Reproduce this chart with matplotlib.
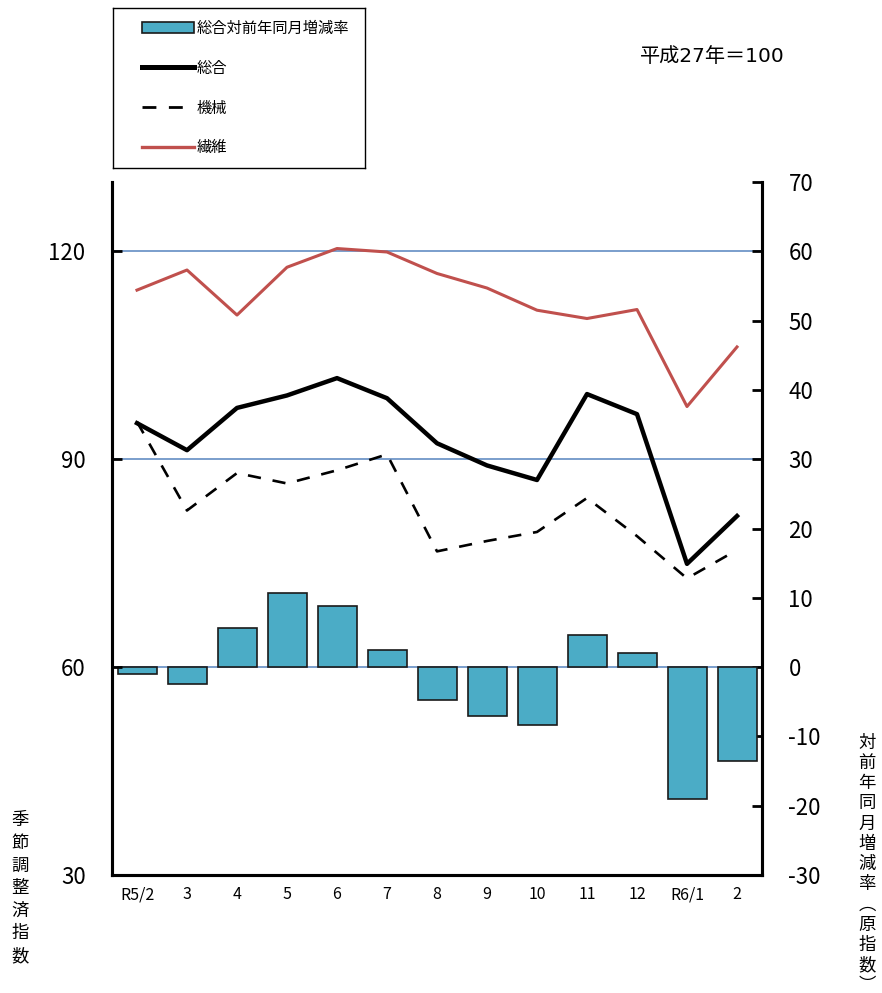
import matplotlib
matplotlib.use("Agg")
import matplotlib.pyplot as plt
from matplotlib.patches import Patch
from matplotlib.lines import Line2D

plt.rcParams['font.family'] = ['Noto Sans CJK JP', 'DejaVu Sans']

# data
months = ['R5/2', '3', '4', '5', '6', '7', '8', '9', '10', '11', '12', 'R6/1', '2']
total_yoy = [-1.0, -2.4, 5.6, 10.7, 8.8, 2.5, -4.8, -7.0, -8.3, 4.6, 2.0, -19.0, -13.5]
total_idx = [95.2, 91.3, 97.4, 99.2, 101.7, 98.8, 92.3, 89.1, 87.0, 99.4, 96.5, 74.9, 81.8]
machine_idx = [95.4, 82.6, 88.0, 86.5, 88.4, 90.7, 76.7, 78.2, 79.5, 84.4, 78.9, 72.8, 76.9]
textile_idx = [114.4, 117.3, 110.8, 117.7, 120.4, 119.9, 116.8, 114.7, 111.5, 110.3, 111.6, 97.6, 106.2]

left_ticks = [30, 60, 90, 120]
right_ticks = list(range(-30, 71, 10))

bar_color = '#4BACC6'
red = '#C0504D'
grid_blue = '#6F96C8'

W, H = 882, 993
fig = plt.figure(figsize=(W / 100, H / 100), dpi=100)

# bars on the base axes (right scale), lines on the twin (left scale)
ax = fig.add_axes([112 / W, (H - 875) / H, 650 / W, 693 / H])
ax2 = ax.twinx()

x = list(range(len(months)))
ax.set_ylim(-30, 70)
ax2.set_ylim(30, 130)
ax.set_xlim(-0.5, len(months) - 0.5)

offset = 60  # left value - right value
for lv in left_ticks[1:]:
    ax.axhline(lv - offset, color=grid_blue, lw=1.3, zorder=0)

ax.bar(x, total_yoy, width=0.78, color=bar_color, edgecolor='#1a1a1a',
       linewidth=1.2, zorder=2)

ax2.plot(x, textile_idx, color=red, lw=2.2, zorder=3)
ax2.plot(x, machine_idx, color='black', lw=1.9, linestyle=(0, (5, 4.5)), zorder=3)
ax2.plot(x, total_idx, color='black', lw=3.2, zorder=4)

# right axis (bars)
ax.yaxis.tick_right()
ax.set_yticks(right_ticks)
ax.set_yticklabels([str(v) for v in right_ticks], fontsize=16)
ax.tick_params(axis='y', direction='in', length=7, width=2, pad=19)
for lab in ax.get_yticklabels():
    lab.set_horizontalalignment('left')

# left axis (lines)
ax2.yaxis.tick_left()
ax2.set_yticks(left_ticks)
ax2.set_yticklabels([str(v) for v in left_ticks], fontsize=16)
ax2.tick_params(axis='y', direction='in', length=7, width=2, pad=19)

ax.set_xticks(x)
ax.set_xticklabels(months, fontsize=11.5)
ax.tick_params(axis='x', length=0, pad=8)

for a in (ax, ax2):
    a.spines['top'].set_visible(False)
    for s in ('left', 'right', 'bottom'):
        a.spines[s].set_linewidth(2.2)
        a.spines[s].set_color('black')

# axis titles (vertical)
fig.text(20 / W, 1 - 888 / H, '\n'.join('季節調整済指数'), ha='center', va='center',
         fontsize=12.5, linespacing=1.33)
fig.text(867 / W, 1 - 864 / H, '\n'.join('対前年同月増減率︵原指数︶'), ha='center',
         va='center', fontsize=12.5, linespacing=1.16)

fig.text(712 / W, 1 - 57 / H, '平成27年＝100', ha='center', va='center', fontsize=14.5,
         family=['DejaVu Sans', 'Noto Sans CJK JP'])

# legend in its own framed box
lax = fig.add_axes([113 / W, (H - 168) / H, 252 / W, 160 / H])
lax.set_xticks([])
lax.set_yticks([])
for s in lax.spines.values():
    s.set_linewidth(1.0)
handles = [
    Patch(facecolor=bar_color, edgecolor='#1a1a1a', linewidth=1.2),
    Line2D([], [], color='black', lw=3.6),
    Line2D([], [], color='black', lw=2.0, linestyle=(0, (5, 4.5))),
    Line2D([], [], color=red, lw=2.4),
]
labels = ['総合対前年同月増減率', '総合', '機械', '繊維']
lax.legend(handles, labels, loc='upper left', bbox_to_anchor=(0.09, 0.965),
           frameon=False, fontsize=11, handlelength=3.4, handletextpad=0.2,
           labelspacing=1.5, borderaxespad=0)

fig.savefig('out.png', dpi=100, facecolor='white')
